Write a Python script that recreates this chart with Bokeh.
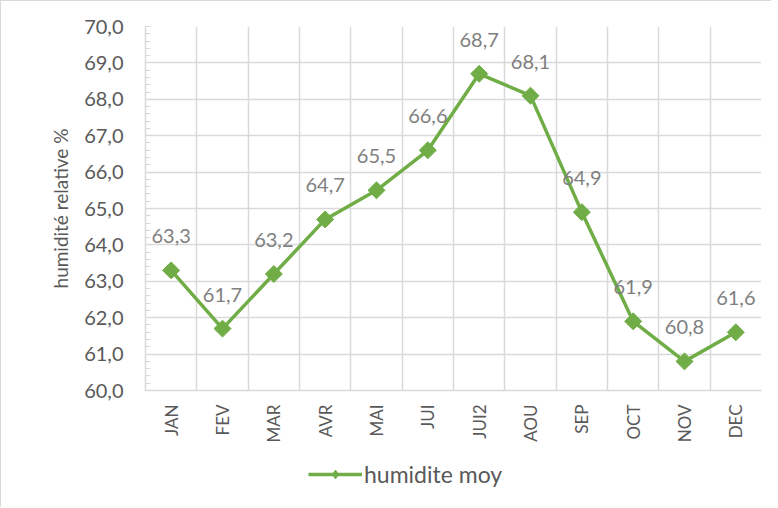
from math import pi
from bokeh.plotting import figure
from bokeh.layouts import column
from bokeh.models import (Range1d, FixedTicker, SingleIntervalTicker, ColumnDataSource,
                          Legend, LegendItem)
from bokeh.core.properties import value
from bokeh.embed import file_html
from bokeh.resources import INLINE

months = ["JAN", "FEV", "MAR", "AVR", "MAI", "JUI", "JUI2", "AOU", "SEP", "OCT", "NOV", "DEC"]
humidite = [63.3, 61.7, 63.2, 64.7, 65.5, 66.6, 68.7, 68.1, 64.9, 61.9, 60.8, 61.6]
y_ticks = [60, 61, 62, 63, 64, 65, 66, 67, 68, 69, 70]
series_name = "humidite moy"

GREEN = "#70AD47"
GRID = "#d9d9d9"
FONT = "Lato"

x = [i + 0.5 for i in range(len(months))]
labels = [f"{v:.1f}".replace(".", ",") for v in humidite]
src = ColumnDataSource(dict(x=x, y=humidite, label=labels))

p = figure(width=770, height=444, x_range=Range1d(0, len(months)), y_range=Range1d(y_ticks[0], y_ticks[-1]),
           output_backend="svg", toolbar_location=None,
           min_border_left=144, min_border_right=10, min_border_top=25, min_border_bottom=51)
p.outline_line_color = None
p.background_fill_color = "white"
p.border_fill_color = "white"

# x axis
p.xaxis.ticker = FixedTicker(ticks=x)
p.xaxis.major_label_overrides = {xi: m for xi, m in zip(x, months)}
p.xaxis.major_label_orientation = pi / 2
p.xaxis.major_tick_in = 0
p.xaxis.major_tick_out = 0
p.xaxis.minor_tick_in = 0
p.xaxis.minor_tick_out = 0
p.xaxis.axis_line_color = GRID
p.xaxis.axis_line_width = 1.5
p.xaxis.major_label_standoff = 14
p.xaxis.major_label_text_font = FONT
p.xaxis.major_label_text_font_size = "17px"
p.xaxis.major_label_text_color = "#595959"
p.xgrid.ticker = FixedTicker(ticks=list(range(len(months) + 1)))
p.xgrid.grid_line_color = GRID
p.xgrid.grid_line_width = 1.5

# y axis
p.yaxis.ticker = SingleIntervalTicker(interval=1, num_minor_ticks=5)
p.yaxis.major_label_overrides = {t: f"{t:.1f}".replace(".", ",") for t in y_ticks}
p.yaxis.axis_line_color = GRID
p.yaxis.axis_line_width = 1.5
p.yaxis.major_tick_in = 5
p.yaxis.major_tick_out = 0
p.yaxis.minor_tick_in = 5
p.yaxis.minor_tick_out = 0
p.yaxis.major_tick_line_color = GRID
p.yaxis.minor_tick_line_color = GRID
p.yaxis.major_label_standoff = 22
p.yaxis.major_label_text_font = FONT
p.yaxis.major_label_text_font_size = "20px"
p.yaxis.major_label_text_color = "#595959"
p.yaxis.axis_label = "humidité relative %"
p.yaxis.axis_label_text_font = FONT
p.yaxis.axis_label_text_font_size = "19px"
p.yaxis.axis_label_text_font_style = "normal"
p.yaxis.axis_label_text_color = "#595959"
p.yaxis.axis_label_standoff = 9
p.ygrid.grid_line_color = GRID
p.ygrid.grid_line_width = 1.5

p.line("x", "y", source=src, line_width=3.5, color=GREEN)
p.scatter("x", "y", source=src, marker="square", angle=pi / 4, size=12, color=GREEN)
p.text("x", "y", text="label", source=src, text_align="center", text_baseline="middle",
       y_offset=-34, text_font=value(FONT), text_font_size="20px", text_color="#7f7f7f")

# legend strip below the chart (its renderers share the data but lie outside its view)
lg = figure(width=770, height=62, x_range=Range1d(0, 1), y_range=Range1d(0, 1),
            output_backend="svg", toolbar_location=None,
            x_axis_location=None, y_axis_location=None,
            min_border_left=0, min_border_right=0, min_border_top=0, min_border_bottom=0)
lg.outline_line_color = None
lg.grid.visible = False
lg.border_fill_color = "white"
l_line = lg.line("x", "y", source=src, line_width=3.5, color=GREEN)
l_mk = lg.scatter("x", "y", source=src, marker="diamond", size=18, color=GREEN)
legend = Legend(items=[LegendItem(label=series_name, renderers=[l_line, l_mk])],
                orientation="horizontal", location=(163, 19),
                label_text_font=FONT, label_text_font_size="23px", label_text_color="#595959",
                border_line_color=None, background_fill_alpha=0,
                glyph_width=54, glyph_height=22, label_standoff=2, padding=0, margin=0)
lg.add_layout(legend, "center")

layout = column(p, lg, spacing=0)
layout.styles = {"border-left": "1px solid #d9d9d9", "border-top": "1px solid #d9d9d9"}

open("out.html", "w").write(file_html(layout, INLINE))
